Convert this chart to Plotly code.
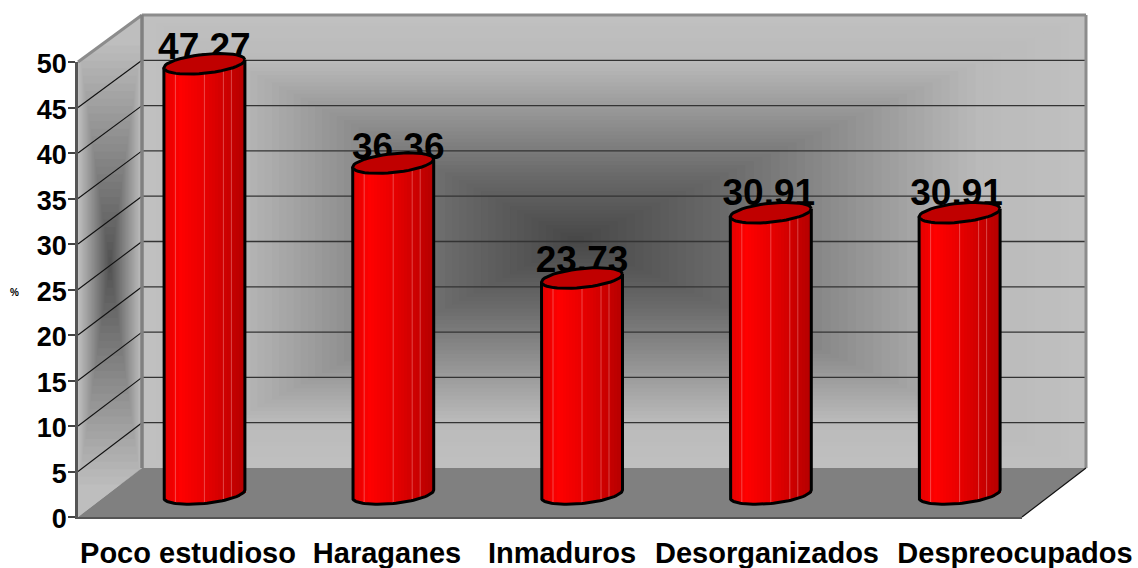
import math
import plotly.graph_objects as go

categories = ["Poco estudioso", "Haraganes", "Inmaduros", "Desorganizados", "Despreocupados"]
values = [47.27, 36.36, 23.73, 30.91, 30.91]
y_ticks = [0, 5, 10, 15, 20, 25, 30, 35, 40, 45, 50]
label_centres_px = [188, 387, 562, 767, 1015]
value_label_dx_px = [0, 5, 0, -2, -3]
value_label_dy_px = [3, 4, 2, 0, 0]

W, H = 1138, 568
FONT = "Liberation Sans"
FX0, FX1, FY0, FY50 = 78, 1022, 517, 62      # front plane
BX0, BX1, BY0, BY50 = 142, 1086, 468, 15     # back wall
DX, DY = 32, 23                               # bars stand half way into the depth
PX_UNIT = (FY0 - FY50) / 50
PX_CAT = (FX1 - FX0) / 5
A, B, TILT = 40.5, 9.5, 4.0                    # cylinder cross-section, px
LABEL_UP = 17


def px(x):
    return x / W


def py(y):
    return 1 - y / H


def poly(points, fill=None, line=None, width=0):
    path = "M " + " L ".join(f"{px(x):.5f},{py(y):.5f}" for x, y in points) + " Z"
    s = dict(type="path", path=path, xref="paper", yref="paper", layer="below",
             line=dict(width=width, color=line or "rgba(0,0,0,0)"))
    if fill:
        s["fillcolor"] = fill
    return s


def seg(x0, y0, x1, y1, color, width):
    return dict(type="line", xref="paper", yref="paper", layer="below",
                x0=px(x0), y0=py(y0), x1=px(x1), y1=py(y1),
                line=dict(color=color, width=width))


def gray(v):
    v = int(round(v))
    return f"rgb({v},{v},{v})"


def ramp(s, pts):
    for (a, ca), (b, cb) in zip(pts, pts[1:]):
        if s >= b:
            return ca + (cb - ca) * (s - a) / (b - a)
    return pts[-1][1]


shapes = []

# back wall: rectangular gradient
cx, cy = 575, 240
steps = 60
back_ramp = [(1, 192), (0.8, 186), (0.55, 146), (0.3, 106), (0, 70)]
for i in range(steps):
    s = 1 - i / steps
    x0 = cx - (cx - BX0) * s
    x1 = cx + (BX1 - cx) * s
    y0 = cy - (cy - BY50) * s
    y1 = cy + (BY0 - cy) * s
    shapes.append(poly([(x0, y0), (x1, y0), (x1, y1), (x0, y1)], fill=gray(ramp(s, back_ramp))))


# left wall: upright bands of a rectangular gradient clipped to the parallelogram
def wall_top(x):
    return FY50 + (BY50 - FY50) * (x - FX0) / (BX0 - FX0)


def wall_bottom(x):
    return FY0 + (BY0 - FY0) * (x - FX0) / (BX0 - FX0)


def wall_top_x(y):
    return FX0 + (y - FY50) * (BX0 - FX0) / (BY50 - FY50)


def wall_bottom_x(y):
    return FX0 + (y - FY0) * (BX0 - FX0) / (BY0 - FY0)


corners = [(FX0, FY50), (BX0, BY50), (BX0, BY0), (FX0, FY0)]
shapes.append(poly(corners, fill=gray(190)))
lcx, lcy = 110, 265
for i in range(1, 30):
    s = 1 - i / 30
    hw, hh = 32 * s, 227 * s
    x0, x1, y0, y1 = lcx - hw, lcx + hw, lcy - hh, lcy + hh
    pts = []
    if y0 < wall_top(x0):
        pts += [(x0, wall_top(x0)), (wall_top_x(y0), y0)]
    else:
        pts += [(x0, y0)]
    pts += [(x1, y0)]
    if y1 > wall_bottom(x1):
        pts += [(x1, wall_bottom(x1)), (wall_bottom_x(y1), y1)]
    else:
        pts += [(x1, y1)]
    pts += [(x0, y1)]
    shapes.append(poly(pts, fill=gray(190 - (190 - 80) * (1 - s))))

# floor
shapes.append(poly([(FX0, FY0), (BX0, BY0), (BX1, BY0), (FX1, FY0)], fill="#808080"))

# grid lines
for v in y_ticks[1:-1]:
    fy = FY0 - v * PX_UNIT
    by = BY0 - v * (BY0 - BY50) / 50
    shapes.append(seg(BX0, by, BX1, by, "#333333", 1.3))
    shapes.append(seg(FX0, fy, BX0, by, "#111111", 1.1))

# frame
shapes.append(seg(FX0, FY50, BX0, BY50, "#8c8c8c", 3))
shapes.append(seg(BX0, BY50, BX1, BY50, "#8c8c8c", 3))
shapes.append(seg(BX0, BY50, BX0, BY0, "#808080", 3.5))
shapes.append(seg(BX1, BY50, BX1, BY0, "#8c8c8c", 3))
shapes.append(seg(FX1, FY0, BX1, BY0, "#111111", 1.2))

fig = go.Figure()

# main axes carry the tick labels
fig.add_trace(go.Scatter(x=[None], y=[None], xaxis="x", yaxis="y", mode="markers",
                         showlegend=False, hoverinfo="skip"))

n_strips = 27


def top_off(t):
    return TILT * t / PX_UNIT


def low_off(t):
    return (TILT * t - B * math.sqrt(max(0.0, 1 - t * t))) / PX_UNIT


def red(t):
    pts = [(-1, 226), (-0.6, 255), (-0.1, 236), (0.4, 212), (1, 180)]
    for (a, ca), (b, cb) in zip(pts, pts[1:]):
        if t <= b:
            return "rgb(%d,0,0)" % round(ca + (cb - ca) * (t - a) / (b - a))
    return "rgb(180,0,0)"


cat_x = [i + 0.5 for i in range(len(values))]
strip_w = 2 * A / n_strips / PX_CAT
for k in range(n_strips):
    t = -1 + (k + 0.5) * 2 / n_strips
    bases = [low_off(t)] * len(values)
    tops = [v + top_off(t) - low_off(t) for v in values]
    fig.add_trace(go.Bar(
        x=cat_x, y=tops, base=bases, xaxis="x2", yaxis="y2",
        width=strip_w * 1.25, offset=t * A / PX_CAT - strip_w / 2,
        marker=dict(color=red(t), line=dict(width=0)),
        showlegend=False, hoverinfo="skip"))

# pale seams on the cylinders
seam_x, seam_y = [], []
for c, v in zip(cat_x, values):
    for off in (-29, 0, 19, 27):
        t = off / A
        seam_x += [c + off / PX_CAT, c + off / PX_CAT, None]
        seam_y += [low_off(t), v + top_off(t), None]
fig.add_trace(go.Scatter(x=seam_x, y=seam_y, xaxis="x2", yaxis="y2", mode="lines",
                         line=dict(color="rgba(255,205,205,0.35)", width=1),
                         showlegend=False, hoverinfo="skip", cliponaxis=False))

# value labels sit behind the cylinder tops
fig.add_trace(go.Scatter(
    x=[c + dx / PX_CAT for c, dx in zip(cat_x, value_label_dx_px)],
    y=[v + (LABEL_UP - dy) / PX_UNIT for v, dy in zip(values, value_label_dy_px)],
    xaxis="x2", yaxis="y2", mode="text",
    text=[f"{v:.2f}" for v in values], textposition="middle center",
    textfont=dict(family=FONT, size=37, color="black", weight="bold"),
    showlegend=False, hoverinfo="skip", cliponaxis=False))

# outline and top of every cylinder
N = 48
for c, v in zip(cat_x, values):
    xs, ys = [c - A / PX_CAT], [v + top_off(-1)]
    for i in range(N + 1):
        t = math.sin((-1 + 2 * i / N) * math.pi / 2)
        xs.append(c + t * A / PX_CAT)
        ys.append(low_off(t))
    xs.append(c + A / PX_CAT)
    ys.append(v + top_off(1))
    fig.add_trace(go.Scatter(x=xs, y=ys, xaxis="x2", yaxis="y2", mode="lines",
                             line=dict(color="black", width=3),
                             showlegend=False, hoverinfo="skip", cliponaxis=False))
    ex, ey = [], []
    for i in range(N + 1):
        a = 2 * math.pi * i / N
        ex.append(c + math.cos(a) * A / PX_CAT)
        ey.append(v + (TILT * math.cos(a) + B * math.sin(a)) / PX_UNIT)
    fig.add_trace(go.Scatter(x=ex, y=ey, xaxis="x2", yaxis="y2", mode="lines", fill="toself",
                             fillcolor="#c00000", line=dict(color="black", width=3),
                             showlegend=False, hoverinfo="skip", cliponaxis=False))

# mid-depth axes: same scales as the front plane, shifted; range padded for the curved bases
PAD = 3
fig.update_layout(
    template="none",
    width=W, height=H,
    margin=dict(l=0, r=0, t=0, b=0, pad=0, autoexpand=False),
    paper_bgcolor="white", plot_bgcolor="rgba(0,0,0,0)",
    barmode="overlay", bargap=0, showlegend=False,
    font=dict(family=FONT, color="black"),
    shapes=shapes,
    xaxis=dict(
        domain=[px(FX0), px(FX1)], range=[0, 5], automargin=False,
        tickmode="array",
        tickvals=[(p - FX0) / PX_CAT for p in label_centres_px],
        ticktext=categories, ticks="", ticklabelstandoff=9,
        tickfont=dict(family=FONT, size=29, color="black", weight="bold"),
        showgrid=False, zeroline=False, showline=True, linecolor="#555555", linewidth=2,
        fixedrange=True, anchor="y"),
    yaxis=dict(
        domain=[py(FY0), py(FY50)], range=[0, 50], automargin=False,
        tickmode="array", tickvals=y_ticks, ticks="outside", ticklen=7, tickwidth=1.5, tickcolor="#444444",
        tickfont=dict(family=FONT, size=27, color="black", weight="bold"),
        ticklabelstandoff=-4, ticklabelshift=2,
        showgrid=False, zeroline=False, showline=True, linecolor="#555555", linewidth=2.5,
        fixedrange=True, anchor="x"),
    xaxis2=dict(
        domain=[px(FX0 + DX), px(FX1 + DX)], range=[0, 5], visible=False,
        anchor="y2", fixedrange=True, automargin=False),
    yaxis2=dict(
        domain=[py(FY0 - DY + PAD * PX_UNIT), py(FY50 - DY - PAD * PX_UNIT)], range=[-PAD, 50 + PAD],
        visible=False, anchor="x2", fixedrange=True, automargin=False),
    annotations=[dict(text="%", x=px(14), y=py(292), xref="paper", yref="paper", showarrow=False,
                      xanchor="center", yanchor="middle",
                      font=dict(family=FONT, size=10, color="black", weight="bold"))],
)

fig.write_html("out.html", config=dict(displayModeBar=False),
               post_script="document.body.style.margin='0';")
